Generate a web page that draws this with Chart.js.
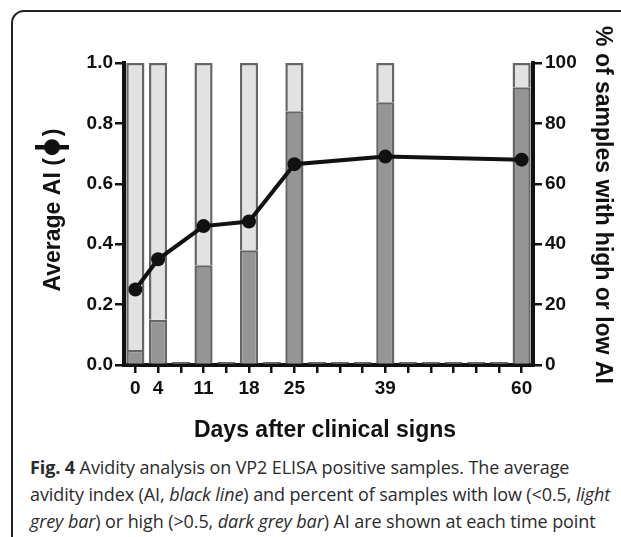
<!DOCTYPE html>
<html>
<head>
<meta charset="utf-8">
<script src="https://cdn.jsdelivr.net/npm/chart.js@4.4.0/dist/chart.umd.min.js"></script>
<style>
  html, body { margin: 0; padding: 0; background: #fff; }
  body { width: 621px; height: 537px; position: relative; overflow: hidden; }
  #frame {
    position: absolute; left: 11px; top: 10px; width: 700px; height: 600px;
    border-top: 2px solid #222; border-left: 2px solid #222;
    border-top-left-radius: 13px;
  }
  #wrap { position: absolute; left: 0; top: 0; width: 621px; height: 448px; }
  #caption {
    position: absolute; left: 30px; top: 454px;
    font-family: "Open Sans", sans-serif; font-size: 18px; line-height: 27px;
    color: #2b2b2b; white-space: nowrap; letter-spacing: -0.1px;
  }
</style>
</head>
<body>
<div id="frame"></div>
<div id="wrap"><canvas id="myChart"></canvas></div>
<div id="caption">
  <div><b>Fig. 4</b> Avidity analysis on VP2 ELISA positive samples. The average</div>
  <div>avidity index (AI, <i>black line</i>) and percent of samples with low (&lt;0.5, <i>light</i></div>
  <div><i>grey bar</i>) or high (&gt;0.5, <i>dark grey bar</i>) AI are shown at each time point</div>
</div>
<script>
// days after clinical signs (one slot per tick, blank ticks have no samples)
const dayLabels = ['0', '4', '', '11', '', '18', '', '25', '', '', '', '39', '', '', '', '', '', '60'];
// average avidity index
const avgAI = [0.25, 0.35, null, 0.46, null, 0.475, null, 0.665, null, null, null, 0.69, null, null, null, null, null, 0.68];
// % of samples with high AI (>0.5)
const highPct = [5, 15, 0, 33, 0, 38, 0, 84, 0, 0, 0, 87, 0, 0, 0, 0, 0, 92];
// % of samples with low AI (<0.5)
const lowPct = [95, 85, 0, 67, 0, 62, 0, 16, 0, 0, 0, 13, 0, 0, 0, 0, 0, 8];

const aiTicks = [0, 0.2, 0.4, 0.6, 0.8, 1.0];
const pctTicks = [0, 20, 40, 60, 80, 100];

const FONT = '"Liberation Sans", Arial, sans-serif';
const INK = '#111';

// axis titles drawn by hand (the left one carries the line+dot symbol)
const titlesPlugin = {
  id: 'titles',
  afterDraw(chart) {
    const ctx = chart.ctx;
    ctx.save();
    ctx.fillStyle = INK;
    ctx.strokeStyle = INK;
    ctx.font = 'bold 23px ' + FONT;
    ctx.textBaseline = 'alphabetic';

    // left title
    ctx.save();
    ctx.translate(52, 210);
    ctx.rotate(-Math.PI / 2);
    const a = 'Average AI (', c = ')', gap = 22;
    const wa = ctx.measureText(a).width, wc = ctx.measureText(c).width;
    let x = -(wa + gap + wc) / 2;
    ctx.textAlign = 'left';
    ctx.fillText(a, x, 8);
    x += wa;
    const sx = x + gap / 2;
    ctx.lineWidth = 4.5;
    ctx.beginPath();
    ctx.moveTo(sx, -17);
    ctx.lineTo(sx, 17);
    ctx.stroke();
    ctx.beginPath();
    ctx.arc(sx, 0, 8, 0, Math.PI * 2);
    ctx.fill();
    ctx.fillText(c, x + gap, 8);
    ctx.restore();

    // right title
    ctx.save();
    ctx.translate(601, 205);
    ctx.rotate(Math.PI / 2);
    ctx.textAlign = 'center';
    ctx.fillText('% of samples with high or low AI', 0, 5.5);
    ctx.restore();

    // x title
    ctx.textAlign = 'center';
    ctx.fillText('Days after clinical signs', 325, 437);
    ctx.restore();
  }
};

const ctx = document.getElementById('myChart');

new Chart(ctx, {
  data: {
    labels: dayLabels,
    datasets: [
      {
        type: 'line',
        label: 'Average AI',
        data: avgAI,
        yAxisID: 'yAI',
        borderColor: INK,
        backgroundColor: INK,
        borderWidth: 4,
        pointRadius: 7,
        pointBackgroundColor: INK,
        pointBorderWidth: 0,
        tension: 0,
        spanGaps: true,
        order: 0
      },
      {
        type: 'bar',
        label: 'High AI',
        data: highPct,
        yAxisID: 'yPct',
        stack: 'pct',
        backgroundColor: '#959595',
        borderColor: '#666',
        borderWidth: 2.5,
        minBarLength: 3,
        barPercentage: 0.8,
        categoryPercentage: 1.0,
        order: 1
      },
      {
        type: 'bar',
        label: 'Low AI',
        data: lowPct,
        yAxisID: 'yPct',
        stack: 'pct',
        backgroundColor: '#e1e2e2',
        borderColor: '#666',
        borderWidth: 2.5,
        barPercentage: 0.8,
        categoryPercentage: 1.0,
        order: 1
      }
    ]
  },
  options: {
    responsive: true,
    maintainAspectRatio: false,
    animation: false,
    layout: { padding: { top: 63, left: 0, right: 0, bottom: 0 } },
    plugins: {
      legend: { display: false },
      tooltip: { enabled: false }
    },
    scales: {
      x: {
        stacked: true,
        afterFit(s) { s.height = 83; },
        grid: { drawOnChartArea: false, offset: false, color: INK, lineWidth: 2.5, tickLength: 8 },
        border: { color: INK, width: 4 },
        ticks: {
          autoSkip: false, maxRotation: 0, padding: 4,
          color: INK, font: { family: FONT, size: 19, weight: 'bold' }
        }
      },
      yAI: {
        position: 'left',
        min: 0, max: 1,
        afterFit(s) { s.width = 124; },
        afterBuildTicks(s) { s.ticks = aiTicks.map(v => ({ value: v })); },
        grid: { drawOnChartArea: false, color: INK, lineWidth: 2.5, tickLength: 9 },
        border: { color: INK, width: 4 },
        ticks: {
          padding: 2, color: INK,
          font: { family: FONT, size: 19, weight: 'bold' },
          callback: v => v.toFixed(1)
        }
      },
      yPct: {
        position: 'right',
        stacked: true,
        min: 0, max: 100,
        afterFit(s) { s.width = 88; },
        afterBuildTicks(s) { s.ticks = pctTicks.map(v => ({ value: v })); },
        grid: { drawOnChartArea: false, color: INK, lineWidth: 2.5, tickLength: 9 },
        border: { color: INK, width: 4 },
        ticks: {
          padding: 3, color: INK,
          font: { family: FONT, size: 19, weight: 'bold' },
          callback: v => String(v)
        }
      }
    }
  },
  plugins: [titlesPlugin]
});
</script>
</body>
</html>
